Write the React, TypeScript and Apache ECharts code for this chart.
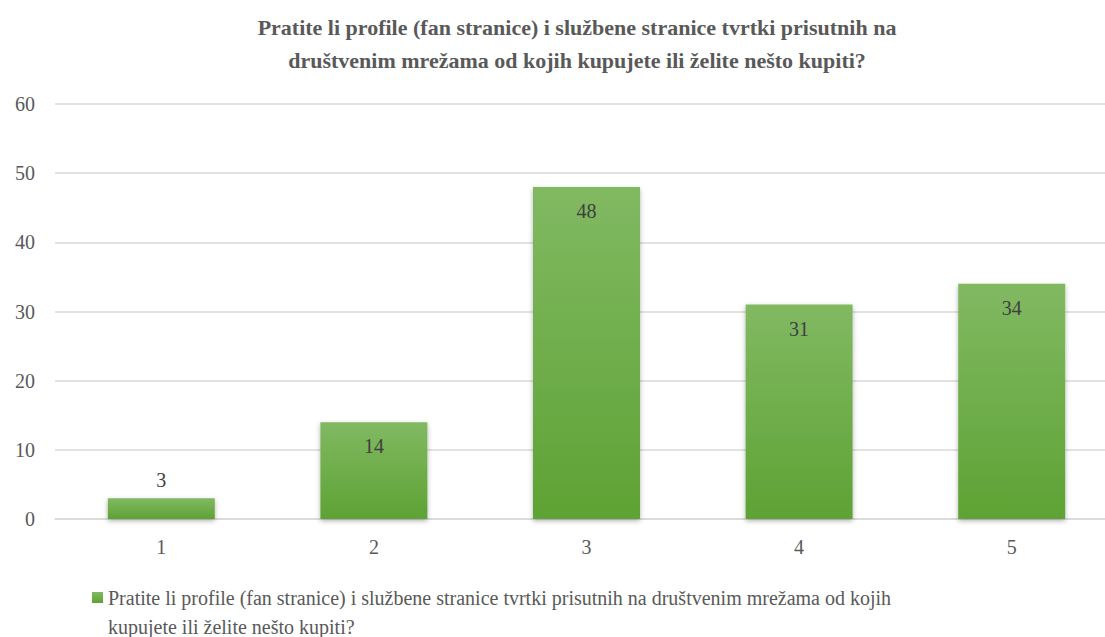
import React, { useEffect, useRef } from "react";
import * as echarts from "echarts";

const titleLines = [
  "Pratite li profile (fan stranice) i službene stranice tvrtki prisutnih na",
  "društvenim mrežama od kojih kupujete ili želite nešto kupiti?",
];
const seriesName =
  "Pratite li profile (fan stranice) i službene stranice tvrtki prisutnih na društvenim mrežama od kojih kupujete ili želite nešto kupiti?";
const legendLines = [
  "Pratite li profile (fan stranice) i službene stranice tvrtki prisutnih na društvenim mrežama od kojih",
  "kupujete ili želite nešto kupiti?",
];
const categories = ["1", "2", "3", "4", "5"];
const values = [3, 14, 48, 31, 34];
const yMin = 0;
const yMax = 60;
const yInterval = 10;

const FONT = "Times New Roman, Liberation Serif, DejaVu Serif, serif";
const TXT = "#595959";

export default function App() {
  const ref = useRef<HTMLDivElement>(null);
  useEffect(() => {
    if (!ref.current) return;
    const chart = echarts.init(ref.current, undefined, { renderer: "svg" });
    chart.setOption({
      animation: false,
      backgroundColor: "#ffffff",
      textStyle: { fontFamily: FONT },
      title: {
        text: titleLines.join("\n"),
        left: 572,
        top: 6,
        textAlign: "center",
        textStyle: {
          fontFamily: FONT,
          fontSize: 22,
          fontWeight: "bold",
          color: TXT,
          lineHeight: 33,
        },
      },
      grid: { left: 55, top: 104, width: 1063, height: 415 },
      xAxis: {
        type: "category",
        data: categories,
        axisLine: { lineStyle: { color: "#d9d9d9", width: 1.5 } },
        axisTick: { show: false },
        axisLabel: { fontFamily: FONT, fontSize: 20, color: TXT, margin: 18 },
      },
      yAxis: {
        type: "value",
        min: yMin,
        max: yMax,
        interval: yInterval,
        axisLine: { show: false },
        axisTick: { show: false },
        splitLine: { lineStyle: { color: "#d9d9d9", width: 1.5 } },
        axisLabel: { fontFamily: FONT, fontSize: 20, color: TXT, margin: 20 },
      },
      legend: {
        left: 92,
        top: 554,
        padding: 0,
        itemWidth: 11,
        itemHeight: 11,
        icon: "rect",
        formatter: () => [" ", ...legendLines].join("\n"),
        textStyle: {
          fontFamily: FONT,
          fontSize: 20,
          color: TXT,
          lineHeight: 29,
        },
      },
      series: [
        {
          name: seriesName,
          type: "bar",
          barWidth: 107,
          data: values.map((v) => ({
            value: v,
            label: v < 8 ? { position: "top", distance: 8 } : { position: "insideTop", distance: 14 },
          })),
          itemStyle: {
            color: new echarts.graphic.LinearGradient(0, 0, 0, 1, [
              { offset: 0, color: "#81b962" },
              { offset: 1, color: "#5ea234" },
            ]),
            shadowBlur: 5,
            shadowColor: "rgba(0,0,0,0.3)",
            shadowOffsetY: 2,
          },
          label: {
            show: true,
            fontFamily: FONT,
            fontSize: 20,
            color: "#404040",
          },
        },
      ],
    });
    return () => chart.dispose();
  }, []);
  return (
    <div style={{ position: "absolute", left: 0, top: 0, width: 1105, height: 637, overflow: "hidden" }}>
      <div ref={ref} style={{ position: "absolute", left: 0, top: 0, width: 1140, height: 637 }} />
    </div>
  );
}
